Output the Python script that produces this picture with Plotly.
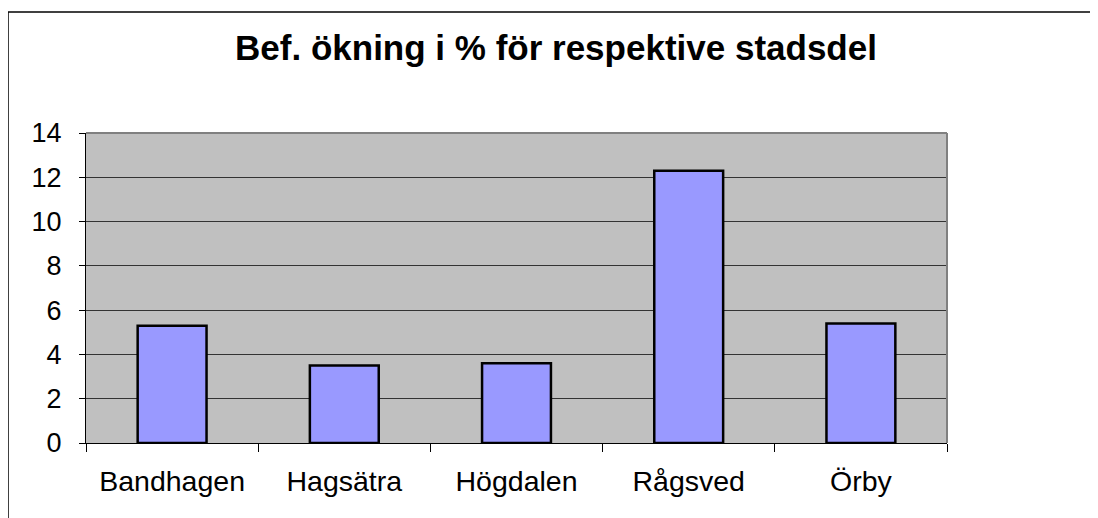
import plotly.graph_objects as go

categories = ["Bandhagen", "Hagsätra", "Högdalen", "Rågsved", "Örby"]
values = [5.3, 3.5, 3.6, 12.3, 5.4]
y_ticks = [0, 2, 4, 6, 8, 10, 12, 14]
title_text = "Bef. ökning i % för respektive stadsdel"

# page body has an 8px default margin, so the figure is offset by 8px
OFF = 8
W, H = 1098 - OFF, 518 - OFF
ml, mt = 86 - OFF, 133 - OFF
pw, ph = 861, 310
mr = W - ml - pw
mb = H - mt - ph

def px_x(x):
    return (x - OFF - ml) / pw

def px_y(y):
    return (mt + ph - (y - OFF)) / ph

fig = go.Figure(go.Bar(
    x=categories, y=values,
    marker=dict(color="#9999FF", line=dict(color="black", width=2.5)),
))

fig.update_layout(
    width=W, height=H,
    margin=dict(l=ml, r=mr, t=mt, b=mb),
    paper_bgcolor="white",
    plot_bgcolor="#C0C0C0",
    bargap=0.6,
    showlegend=False,
    font=dict(family="Liberation Sans, Arial, sans-serif", color="black"),
    title=dict(text="<b>" + title_text + "</b>", x=(556 - OFF) / W, xanchor="center",
               y=1 - (48 - OFF) / H, yanchor="middle",
               font=dict(size=35, color="black", family="Liberation Sans, Arial, sans-serif")),
    xaxis=dict(
        showline=True, linecolor="black", linewidth=1,
        ticks="outside", tickson="boundaries", ticklen=8, tickcolor="black", tickwidth=1,
        tickfont=dict(size=28.5), showgrid=False, ticklabelstandoff=13,
    ),
    yaxis=dict(
        range=[0, 14], tickvals=y_ticks,
        showline=True, linecolor="black", linewidth=1,
        ticks="outside", ticklen=6, tickcolor="black", tickwidth=1,
        tickfont=dict(size=27), ticklabelstandoff=12,
        showgrid=True, gridcolor="#333333", gridwidth=1,
        zeroline=False,
    ),
    shapes=[
        dict(type="line", xref="paper", yref="paper", x0=0, x1=1, y0=1, y1=1,
             line=dict(color="#808080", width=2), layer="above"),
        dict(type="line", xref="paper", yref="paper", x0=1, x1=1, y0=0, y1=1,
             line=dict(color="#808080", width=2), layer="above"),
        dict(type="line", xref="paper", yref="paper", x0=px_x(8), x1=px_x(1100),
             y0=px_y(12), y1=px_y(12), line=dict(color="black", width=1.5)),
        dict(type="line", xref="paper", yref="paper", x0=px_x(8), x1=px_x(8),
             y0=px_y(12), y1=px_y(530), line=dict(color="black", width=1.5)),
    ],
)

fig.write_html("out.html")
